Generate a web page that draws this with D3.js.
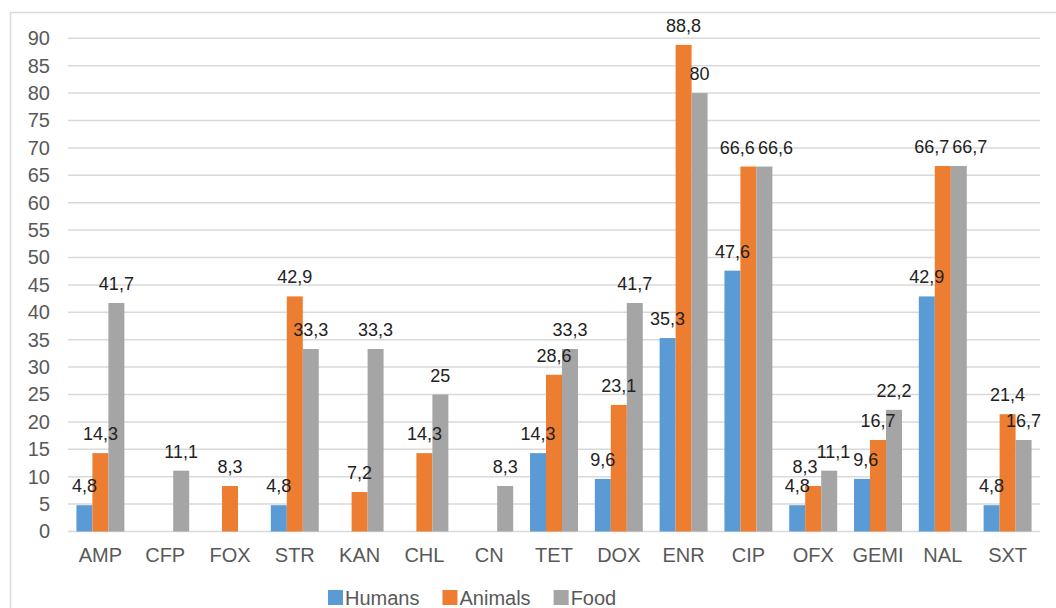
<!DOCTYPE html>
<html>
<head>
<meta charset="utf-8">
<script src="https://cdn.jsdelivr.net/npm/d3@7"></script>
<style>
  body { margin: 0; background: #fff; }
  svg { font-family: Arial, "Liberation Sans", sans-serif; }
</style>
</head>
<body>
<div id="chart"></div>
<script>
// Data
var categories = ["AMP", "CFP", "FOX", "STR", "KAN", "CHL", "CN", "TET", "DOX", "ENR", "CIP", "OFX", "GEMI", "NAL", "SXT"];
var seriesNames = ["Humans", "Animals", "Food"];
var humans  = [4.8, 0, 0, 4.8, 0, 0, 0, 14.3, 9.6, 35.3, 47.6, 4.8, 9.6, 42.9, 4.8];
var animals = [14.3, 0, 8.3, 42.9, 7.2, 14.3, 0, 28.6, 23.1, 88.8, 66.6, 8.3, 16.7, 66.7, 21.4];
var food    = [41.7, 11.1, 0, 33.3, 33.3, 25, 8.3, 33.3, 41.7, 80, 66.6, 11.1, 22.2, 66.7, 16.7];
var yTicks = [0, 5, 10, 15, 20, 25, 30, 35, 40, 45, 50, 55, 60, 65, 70, 75, 80, 85, 90];
var colors = ["#5b9bd5", "#ed7d31", "#a5a5a5"];

var W = 1056, H = 608;
var plot = {left: 68, right: 1040, top: 38.3, bottom: 531.5};

var svg = d3.select("#chart").append("svg")
  .attr("width", W)
  .attr("height", H)

// chart frame (cut off on the right / bottom like the source)
svg.append("rect")
  .attr("x", 10.5).attr("y", 12.5)
  .attr("width", 1100).attr("height", 700)
  .attr("fill", "none")
  .attr("stroke", "#d9d9d9")
  .attr("stroke-width", 1.5)

var x0 = d3.scaleBand()
  .domain(categories)
  .range([plot.left, plot.right])
  .paddingInner(0.26)
  .paddingOuter(0.13)

var x1 = d3.scaleBand()
  .domain(seriesNames)
  .range([0, x0.bandwidth()])

var y = d3.scaleLinear()
  .domain([0, 90])
  .range([plot.bottom, plot.top])

// gridlines
svg.append("g").selectAll("line")
  .data(yTicks).enter().append("line")
  .attr("x1", plot.left).attr("x2", plot.right)
  .attr("y1", function(d){ return y(d) }).attr("y2", function(d){ return y(d) })
  .attr("stroke", "#d9d9d9")
  .attr("stroke-width", 1.5)

// y axis labels
var yAxis = d3.axisLeft(y).tickValues(yTicks).tickSize(0).tickPadding(18)
var gy = svg.append("g")
  .attr("transform", "translate(" + plot.left + ",0)")
  .call(yAxis)
gy.select(".domain").remove()
gy.selectAll("text")
  .attr("font-size", 20)
  .attr("fill", "#595959")
  .attr("font-family", "Arial, 'Liberation Sans', sans-serif")

// x axis labels
var xAxis = d3.axisBottom(x0).tickSize(0).tickPadding(16)
var gx = svg.append("g")
  .attr("transform", "translate(0," + plot.bottom + ")")
  .call(xAxis)
gx.select(".domain").remove()
gx.selectAll("text")
  .attr("font-size", 20)
  .attr("fill", "#595959")
  .attr("font-family", "Arial, 'Liberation Sans', sans-serif")

// build rows for bars
var seriesValues = [humans, animals, food];
var rows = [];
categories.forEach(function(c, i){
  seriesNames.forEach(function(s, j){
    rows.push({cat: c, series: s, idx: j, value: seriesValues[j][i]});
  })
})

var bars = rows.filter(function(d){ return d.value > 0 });

svg.append("g").selectAll("rect")
  .data(bars).enter().append("rect")
  .attr("x", function(d){ return x0(d.cat) + x1(d.series) })
  .attr("y", function(d){ return y(d.value) })
  .attr("width", x1.bandwidth())
  .attr("height", function(d){ return plot.bottom - y(d.value) })
  .attr("fill", function(d){ return colors[d.idx] })

// value labels, decimal comma
var fmt = function(v){ return String(v).replace(".", ",") };
var labels = svg.append("g").selectAll("text")
  .data(bars).enter().append("text")
  .attr("text-anchor", "middle")
  .attr("font-size", 18)
  .attr("fill", "#222")
  .text(function(d){ return fmt(d.value) })
  .each(function(d){
    d.lx = x0(d.cat) + x1(d.series) + x1.bandwidth() / 2;
    d.ly = y(d.value) - 13;
    d.w = this.getComputedTextLength();
  })

// push apart neighbouring labels that would collide (left to right)
for (var i = 1; i < bars.length; i++) {
  var a = bars[i - 1], b = bars[i];
  var overlapX = (a.lx + a.w / 2 + 3) - (b.lx - b.w / 2);
  if (Math.abs(a.ly - b.ly) < 18 && overlapX > 0) {
    a.lx -= overlapX / 2;
    b.lx += overlapX / 2;
  }
}

labels
  .attr("x", function(d){ return d.lx })
  .attr("y", function(d){ return d.ly })

// legend
var legend = svg.append("g").attr("transform", "translate(0,598)")
var lx = 328;
seriesNames.forEach(function(s, j){
  legend.append("rect")
    .attr("x", lx).attr("y", -8)
    .attr("width", 15).attr("height", 15)
    .attr("fill", colors[j])
  var t = legend.append("text")
    .attr("x", lx + 17).attr("y", 7)
    .attr("font-size", 20)
    .attr("fill", "#595959")
    .text(s)
  lx += 17 + t.node().getComputedTextLength() + 23;
})
</script>
</body>
</html>
